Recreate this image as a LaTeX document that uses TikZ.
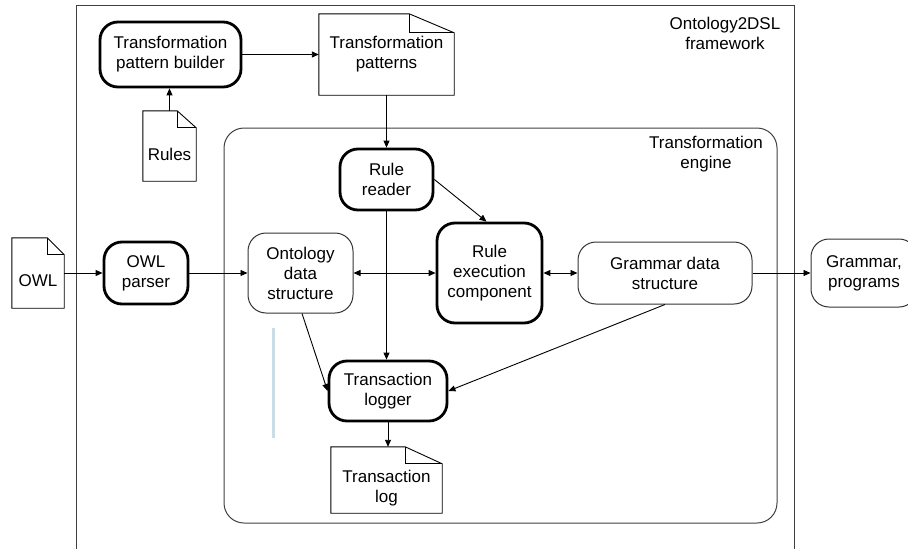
\documentclass[tikz,border=0pt]{standalone}
\usepackage{fontspec}
\setmainfont{Liberation Sans}
\usetikzlibrary{arrows.meta}

\definecolor{paleblue}{RGB}{197,222,232}

\tikzset{
	proc/.style={draw, line width=2.8pt, rounded corners=18pt, inner sep=0pt, align=center},
	store/.style={draw=black!80, line width=1pt, rounded corners=18pt, inner sep=0pt, align=center},
	docbox/.style={inner sep=0pt, align=center},
	link/.style={line width=0.9pt, ->},
	twolink/.style={line width=0.9pt, <->}
}

% folded document outline round a docbox node
\newcommand\docoutline[3]{%
	\draw[line width=0.9pt] (#1.south west) -- (#1.north west) -- ([xshift=-#2]#1.north east) -- ([yshift=-#3]#1.north east) -- (#1.south east) -- cycle;
	\draw[line width=0.9pt] ([xshift=-#2]#1.north east) |- ([yshift=-#3]#1.north east);}

\begin{document}
\begin{tikzpicture}[x=1pt, y=-1pt, font=\fontsize{17}{20}\selectfont, >={Triangle[length=7pt,width=6pt]}]
	
	\useasboundingbox (0,0) rectangle (908,549);
	
	% frames
	\draw[line width=1pt, black!75] (76,552) -- (76,5) -- (794,5) -- (794,552);
	\draw[line width=1pt, black!75, rounded corners=20pt] (224,128) rectangle (777,523);
	\node[align=center] (fwlabel) at (725,33) {Ontology2DSL\\framework};
	\node[align=center] (englabel) at (706,154) {Transformation\\engine};
	\draw[line width=3pt, paleblue] (273,328) -- (273,438);
	
	% top row
	\node[proc, minimum width=141, minimum height=65] (builder) at (170.5,54.5) {Transformation\\pattern builder};
	\node[docbox, minimum width=135, minimum height=81] (patterns) at (386.5,54.5) {Transformation\\patterns};
	\node[docbox, minimum width=53, minimum height=70, label={[yshift=-8pt]center:Rules}] (rules) at (169.5,146) {};
	\docoutline{patterns}{45pt}{19pt}
	\docoutline{rules}{19pt}{17pt}
	
	% middle row
	\node[docbox, minimum width=52, minimum height=70, label={[yshift=-8pt]center:OWL}] (owl) at (38,273) {};
	\docoutline{owl}{17pt}{17pt}
	\node[proc, minimum width=84, minimum height=62] (parser) at (146,273) {OWL\\parser};
	\node[store, minimum width=105, minimum height=80] (onto) at (300.5,273) {Ontology\\data\\structure};
	\node[proc, minimum width=93, minimum height=61] (reader) at (386.5,179.5) {Rule\\reader};
	\node[proc, minimum width=105, minimum height=100] (exec) at (489.5,273) {Rule\\execution\\component};
	\node[store, minimum width=174, minimum height=62] (gdata) at (665,273) {Grammar data\\structure};
	\node[store, minimum width=106, minimum height=68] (prog) at (864,273) {Grammar,\\programs};
	
	% bottom
	\node[proc, minimum width=118, minimum height=60] (logger) at (388,391) {Transaction\\logger};
	\node[docbox, minimum width=111, minimum height=66, label={[yshift=-8pt, align=center]center:Transaction\\log}] (log) at (386.5,480) {};
	\docoutline{log}{37pt}{17pt}
	
	% connectors
	\draw[link] (rules.north) -- (rules.north |- builder.south);
	\draw[link] (builder) -- (patterns);
	\draw[link] (patterns) -- (reader);
	\draw[link] (owl) -- (parser);
	\draw[link] (parser) -- (onto);
	\draw[twolink] (onto) -- (exec);
	\draw[twolink] (exec) -- (gdata);
	\draw[link] (gdata) -- (prog);
	\draw[link] (reader.east) -- ([xshift=-3pt]exec.north);
	\draw[link] (reader) -- (reader |- logger.north);
	\draw[link] ([xshift=1.5pt]onto.south) -- (logger.west);
	\draw[link] (gdata.south) -- (logger.east);
	\draw[link] (logger.south) -- (logger.south |- log.north);

\end{tikzpicture}
\end{document}
